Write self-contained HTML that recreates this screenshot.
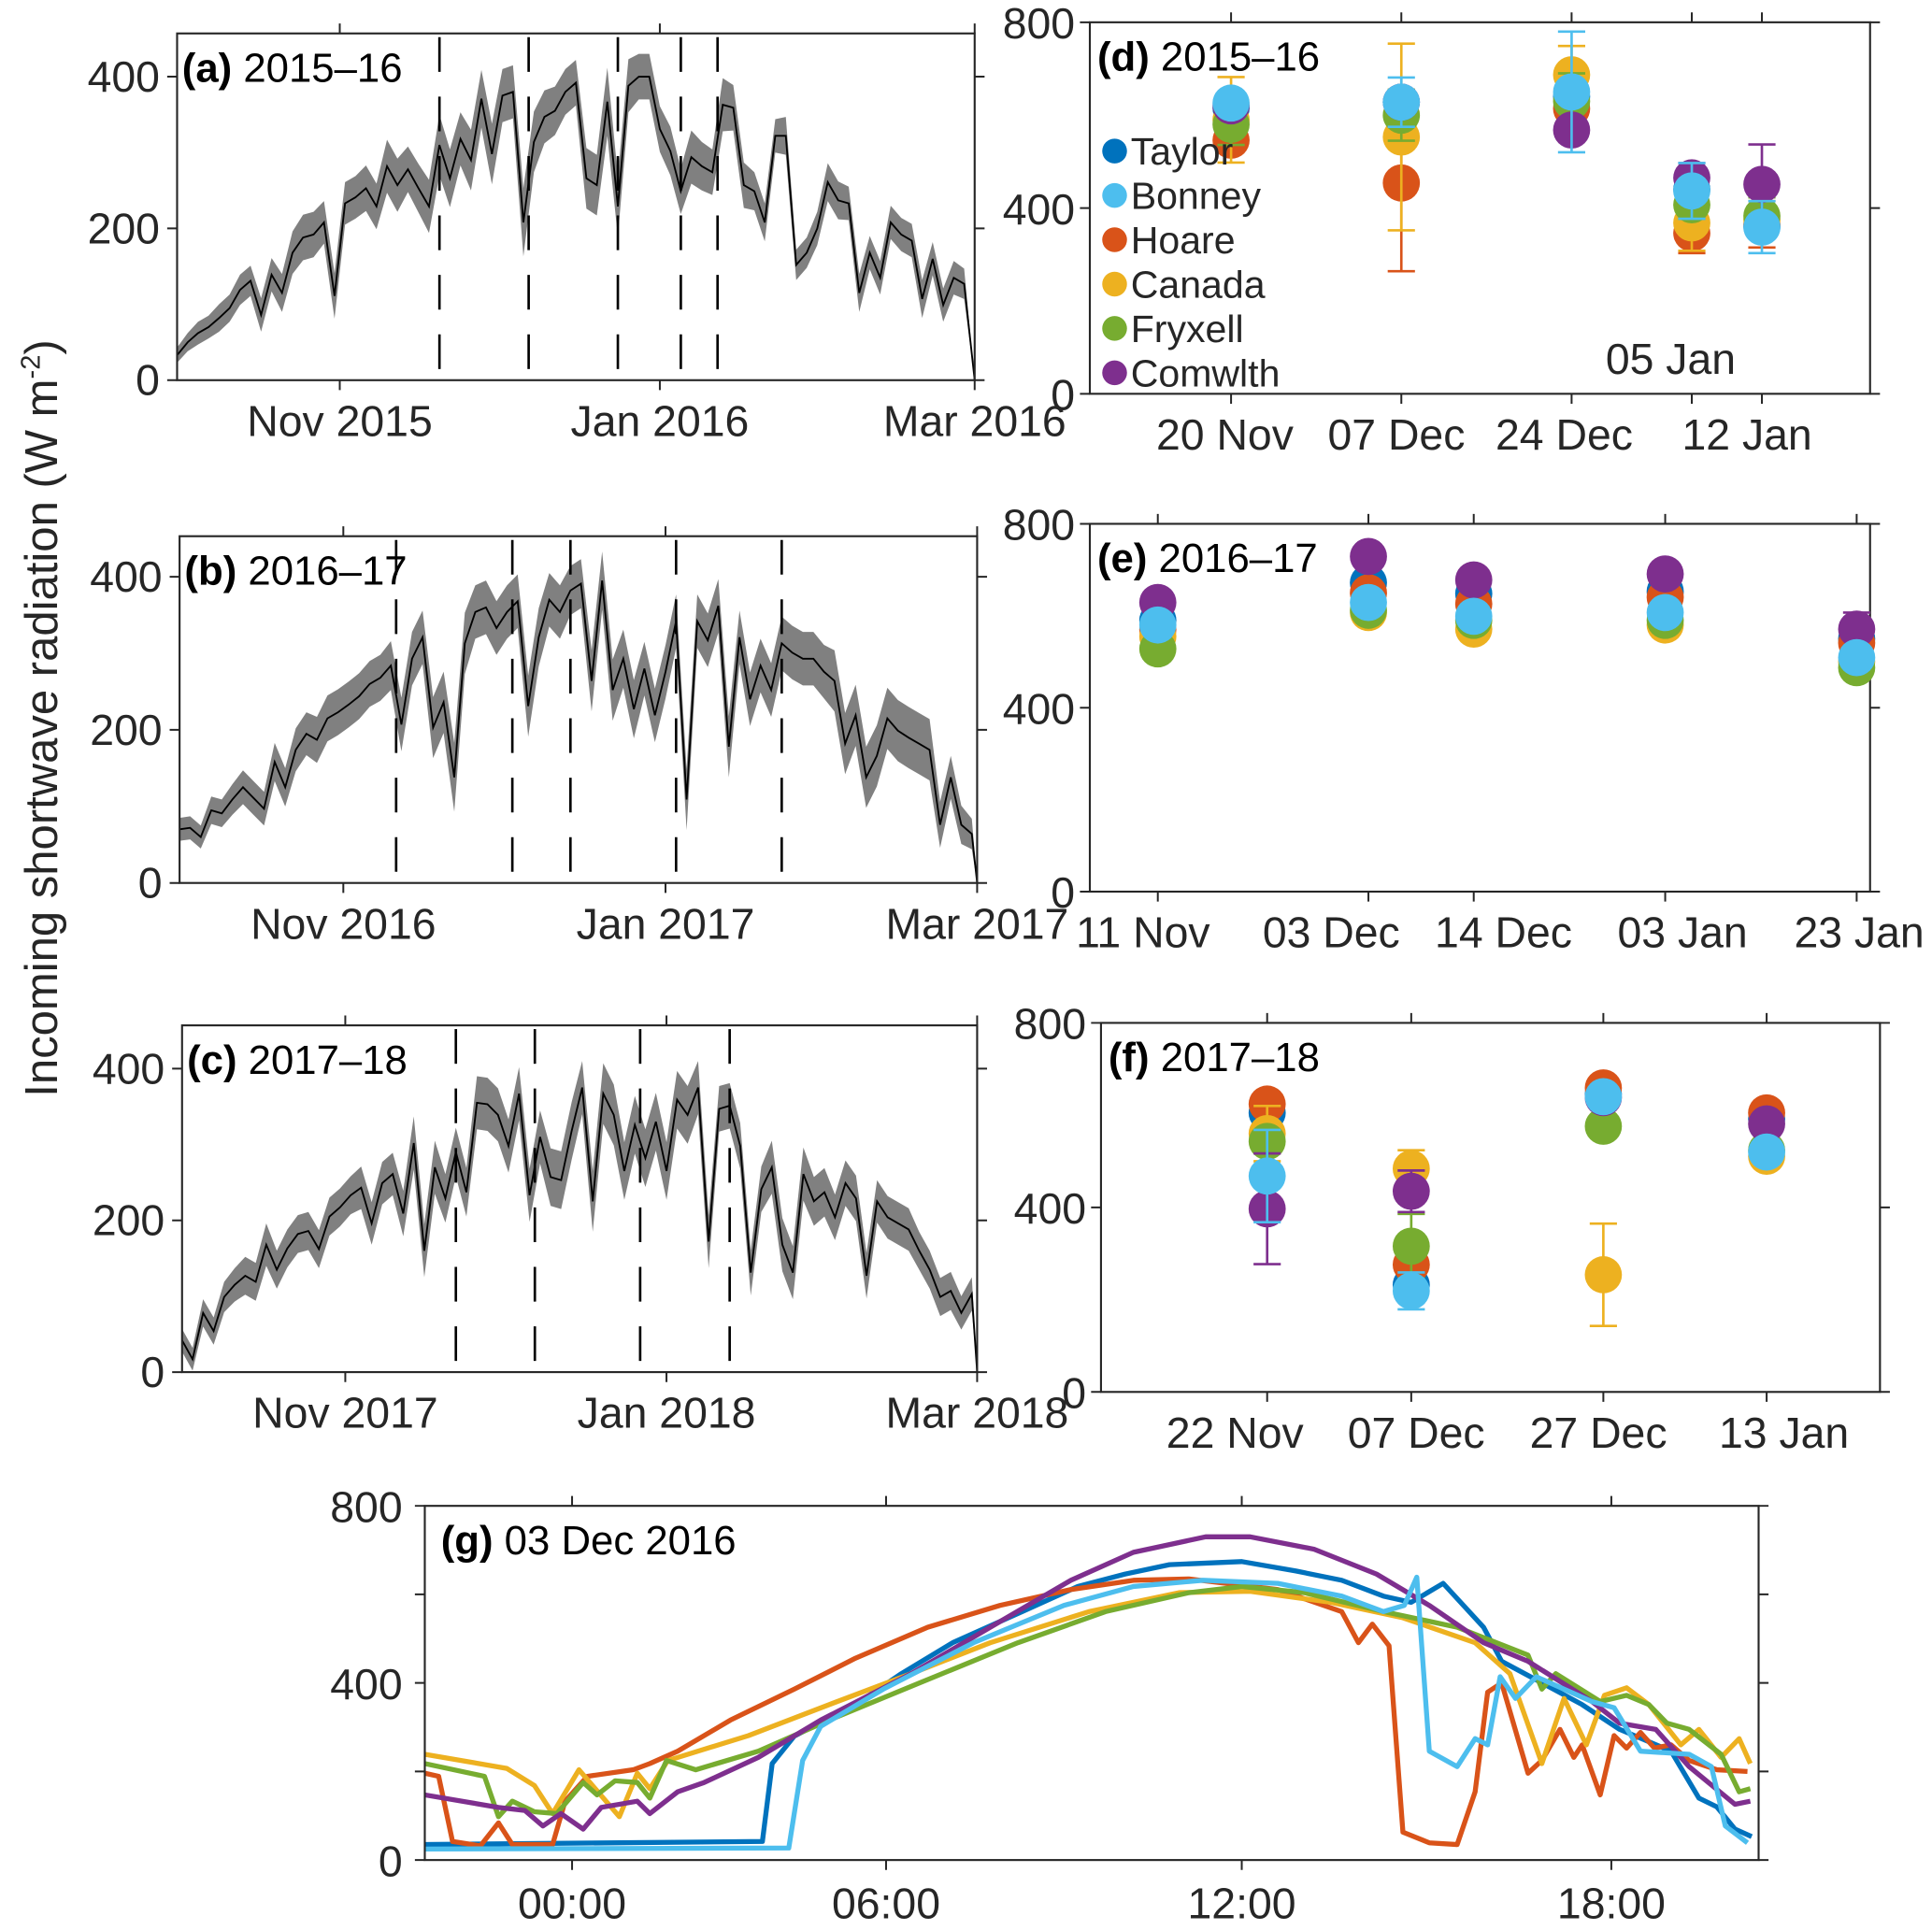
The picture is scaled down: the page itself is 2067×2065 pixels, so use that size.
<!DOCTYPE html>
<html><head><meta charset="utf-8"><style>
html,body{margin:0;padding:0;background:#fff;}
svg{display:block;font-family:"Liberation Sans",Arial,sans-serif;}
</style></head><body>
<svg id="fig" width="2067" height="2065" viewBox="0 0 1560 1558.5" xmlns="http://www.w3.org/2000/svg">
<text transform="translate(46,580) rotate(-90)" text-anchor="middle" font-size="37" fill="#262626">Incoming shortwave radiation (W m<tspan font-size="22" dy="-14">-2</tspan><tspan dy="14">)</tspan></text>
</svg>
<script>
// ---------- Panels a-c data (every 2 days from 1 Oct) ----------
const aValues=[33,50,62,70,82,95,119,131,86,139,115,168,188,192,208,111,233,241,253,229,282,257,278,253,229,310,266,318,290,371,298,375,380,208,314,347,355,380,392,266,257,367,229,388,400,400,331,302,249,294,282,274,363,359,257,249,208,322,322,152,168,200,261,237,233,115,168,135,208,192,184,107,160,99,135,127,0];
const aSpread=[10,12,15,15,18,18,20,20,22,22,25,28,30,30,28,30,28,28,30,30,35,35,30,32,35,40,38,35,40,38,40,35,35,45,40,35,32,30,30,40,40,45,40,35,30,30,30,32,30,35,32,30,35,30,30,25,25,22,25,20,20,22,25,25,22,25,22,22,22,22,22,25,22,22,22,20,0];
const bValues=[70,72,60,95,91,109,125,111,97,158,125,174,195,187,215,223,233,244,260,268,284,207,293,321,203,236,138,313,354,360,333,354,368,231,321,370,354,382,391,264,395,252,293,227,280,219,276,342,109,342,317,362,178,321,240,284,252,313,301,293,293,276,264,182,219,138,166,215,199,190,182,174,76,138,76,64,0];
const bSpread=[15,15,15,18,18,20,22,22,22,25,25,28,28,30,30,30,30,30,30,30,32,35,35,35,40,40,45,40,35,35,35,35,35,40,38,35,35,32,32,40,38,40,38,38,35,35,35,35,40,35,35,35,40,35,35,35,35,35,35,35,35,35,40,40,40,40,40,40,40,40,40,40,30,28,25,20,0];
const cValues=[42,17,78,54,99,115,127,119,168,135,163,182,186,162,205,217,233,243,196,249,261,209,302,160,270,229,290,237,355,353,339,298,367,233,310,257,253,318,375,225,367,339,265,326,282,330,265,359,339,375,172,347,351,298,131,241,270,168,131,261,225,237,204,249,229,127,225,204,196,188,160,135,99,107,78,103,0];
const cSpread=[15,15,18,18,20,22,25,25,28,25,25,25,25,25,25,25,25,28,28,28,28,30,35,35,35,32,32,32,35,35,35,35,35,35,35,38,38,38,35,40,40,40,38,38,38,38,38,38,38,35,35,30,30,30,30,30,35,35,35,35,32,32,30,30,30,30,28,28,28,28,25,25,25,25,22,22,0];
const aDashDays=[50,67,84,96,103];
const bDashDays=[41,63,74,94,114];
const cDashDays=[52,67,87,104];
const tsTickLabels=[["Nov 2015","Jan 2016","Mar 2016"],["Nov 2016","Jan 2017","Mar 2017"],["Nov 2017","Jan 2018","Mar 2018"]];
const tsTickDays=[31,92];
const tsYTicks=[0,200,400];

// ---------- Panels d-f data ----------
const seriesNames=["Taylor","Bonney","Hoare","Canada","Fryxell","Comwlth"];
const dDays=[50,67,84,96,103];
const dLabels=["20 Nov","07 Dec","24 Dec","","12 Jan"];
const dTaylor=[615,628,640,440,360];
const dBonney=[626,628,650,437,359];
const dHoare=[546,454,614,346,365];
const dCanada=[590,553,687,368,375];
const dFryxell=[580,600,630,407,383];
const dComwlth=[620,628,568,465,451];
const dErrTaylor=[0,0,0,0,0];
const dErrBonney=[0,53,130,60,56];
const dErrHoare=[0,190,0,43,50];
const dErrCanada=[92,201,62,60,0];
const dErrFryxell=[44,55,60,30,40];
const dErrComwlth=[0,0,0,32,86];

const eDays=[41,63,74,94,114];
const eLabels=["11 Nov","03 Dec","14 Dec","03 Jan","23 Jan"];
const eTaylor=[590,672,648,653,550];
const eBonney=[580,629,599,607,509];
const eHoare=[570,650,626,640,541];
const eCanada=[555,607,571,580,500];
const eFryxell=[528,612,590,590,487];
const eComwlth=[629,729,678,691,571];
const eErrComwlth=[0,0,0,0,36];

const fDays=[52,67,87,104];
const fLabels=["22 Nov","07 Dec","27 Dec","13 Jan"];
const fTaylor=[605,232,646,592];
const fBonney=[468,219,640,520];
const fHoare=[624,276,659,605];
const fCanada=[560,484,254,511];
const fFryxell=[543,316,576,524];
const fComwlth=[397,435,638,581];
const fErrBonney=[100,40,0,0];
const fErrCanada=[60,40,111,20];
const fErrFryxell=[0,70,0,0];
const fErrComwlth=[120,45,0,0];

// ---------- Panel g data (x in sample units, 0..96) ----------
const gTickPos=[10.6,33.2,58.8,85.4];
const gTickLabels=["00:00","06:00","12:00","18:00"];
const taylorT=[0,24.3,25,26.6,31,34.3,38,43,47,50.4,53.6,58.8,62.7,66,69,71,73.3,76.2,77.5,80,83.3,86,89.7,91.7,93,94.3,95.5];
const taylorV=[35,42,218,280,351,421,491,561,618,646,667,674,653,632,596,582,625,526,449,407,351,295,246,140,120,70,53];
const bonneyT=[0,26.2,27.2,28.5,33,39.5,46,51,56,61.4,66,69,70.5,71.4,72.3,74.3,75.6,76.5,77.4,78.5,80,82,84,85.6,87.5,91,92.6,93.6,95.2];
const bonneyV=[25,27,225,302,386,491,575,618,632,625,596,561,575,639,246,211,274,260,414,365,414,386,358,344,246,239,211,77,39];
const hoareT=[0,1,2,4,5.3,6.3,9.2,10.1,11.7,15,16.2,18.2,22,26.6,31,36.2,41.4,46.5,51,55,61.4,66,67.2,68.2,69.4,70.4,72.3,74.3,75.6,76.5,77.5,79.4,80.4,81.7,82.7,83.3,84.6,85.6,86.5,87.5,88.5,89.7,91,93,95.2];
const hoareV=[196,189,42,32,84,35,35,133,189,204,218,246,316,386,456,526,575,611,632,635,611,561,491,533,484,63,39,35,154,379,400,196,225,295,232,260,147,281,253,288,253,260,225,204,200];
const canadaT=[0,5.9,7.9,9.2,11.1,14,15.3,16.2,17.5,23.3,29.1,35,40.7,47.8,54.3,59.4,65.2,70.4,75.6,78.1,80.4,82,83.6,84.9,86.5,88.1,90.4,91.7,93.3,94.6,95.4];
const canadaV=[239,207,168,105,204,98,196,161,225,281,351,421,491,561,604,607,582,547,491,421,218,365,260,372,389,351,260,295,232,274,218];
const fryxellT=[0,4.3,5.3,6.3,7.9,9.5,11.4,12.4,13.7,15.3,16.2,17.4,19.5,24,29.1,35.6,42.7,49,55,58.8,63.3,69,74.3,79.4,80.4,81.4,84.6,86.5,88.1,89.4,91,93.3,94.6,95.4];
const fryxellV=[218,189,98,133,109,105,175,147,179,175,140,225,204,246,316,400,491,561,604,618,604,561,526,463,386,421,358,372,351,309,295,239,154,161];
const comwlthT=[0,5.3,7.2,8.5,9.8,11.4,12.7,15.3,16.2,18.2,20.1,24,28.5,35,40.7,46.5,51,56.2,59.4,64,68.5,72.3,76.2,79.4,84,86,88.6,91,94.3,95.4];
const comwlthV=[147,119,112,77,105,70,119,133,105,154,175,232,316,421,526,632,695,730,730,702,646,575,491,449,358,309,295,211,126,133];

const COLORS={Taylor:"#0072BD",Bonney:"#4DBEEE",Hoare:"#D95319",Canada:"#EDB120",Fryxell:"#77AC30",Comwlth:"#7E2F8E"};
const NS="http://www.w3.org/2000/svg";
const svg=document.getElementById("fig");
function mk(tag,attrs,parent){const e=document.createElementNS(NS,tag);for(const k in attrs)e.setAttribute(k,attrs[k]);(parent||svg).appendChild(e);return e;}
const AX="#262626";
const FS=35;

function frame(g,L,R,T,B,name){
  const r=mk("rect",{x:L,y:T,width:R-L,height:B-T,fill:"none",stroke:AX,"stroke-width":1.6},g);
  
  
}
function txt(g,x,y,s,size,anchor,name){
  const t=mk("text",{x:x,y:y,"font-size":size,"text-anchor":anchor,fill:AX},g);
  t.textContent=s;
  
  
  return t;
}
function panelTitle(g,x,y,letter,rest,name){
  const t=mk("text",{x:x,y:y,"font-size":33,fill:"#000"},g);
  
  
  const b=mk("tspan",{"font-weight":"bold"},t);b.textContent=letter;
  const s=mk("tspan",{},t);s.textContent=rest;
}

// ---------- time-series panels ----------
function tsPanel(cfg){
  const g=mk("g",{});
  
  
  const {L,R,T,B,ndays,ymax}=cfg;
  const x=d=>L+d/ndays*(R-L);
  const y=v=>B-v/ymax*(B-T);
  let up=[],lo=[],ln=[];
  cfg.values.forEach((v,i)=>{const d=Math.min(2*i,ndays);const s=cfg.spread[i];
    up.push(x(d).toFixed(1)+","+y(v+s).toFixed(1));
    lo.unshift(x(d).toFixed(1)+","+y(Math.max(0,v-s)).toFixed(1));
    ln.push(x(d).toFixed(1)+","+y(v).toFixed(1));});
  const band=mk("polygon",{points:up.concat(lo).join(" "),fill:"#808080",stroke:"none"},g);
  
  
  const line=mk("polyline",{points:ln.join(" "),fill:"none",stroke:"#000","stroke-width":1.4},g);
  
  
  cfg.dashes.forEach(d=>{
    const dl=mk("line",{x1:x(d),x2:x(d),y1:T+3,y2:B,stroke:"#000","stroke-width":2,"stroke-dasharray":"28 20"},g);
    
    
  });
  frame(g,L,R,T,B,cfg.name);
  tsYTicks.forEach(v=>{
    const tk=mk("path",{d:`M${L-8},${y(v)}H${L}M${R},${y(v)}H${R+8}`,stroke:AX,"stroke-width":1.5},g);
    
    
    txt(g,L-14,y(v)+12,String(v),FS,"end","y-tick-label");
  });
  const days=tsTickDays.concat([ndays]);
  days.forEach((d,i)=>{
    const tk=mk("path",{d:`M${x(d)},${T-8}V${T}M${x(d)},${B}V${B+8}`,stroke:AX,"stroke-width":1.5},g);
    
    
    txt(g,x(d),B+45,cfg.labels[i],FS,"middle","x-tick-label");
  });
  panelTitle(g,L+4,T+39,cfg.letter,cfg.title,"panel-title");
}
tsPanel({name:"panel-a",L:143,R:787,T:27,B:307,ndays:152,ymax:457,values:aValues,spread:aSpread,dashes:aDashDays,labels:tsTickLabels[0],letter:"(a)",title:" 2015–16"});
tsPanel({name:"panel-b",L:145,R:789,T:433,B:713,ndays:151,ymax:453,values:bValues,spread:bSpread,dashes:bDashDays,labels:tsTickLabels[1],letter:"(b)",title:" 2016–17"});
tsPanel({name:"panel-c",L:147,R:789,T:828,B:1108,ndays:151,ymax:457,values:cValues,spread:cSpread,dashes:cDashDays,labels:tsTickLabels[2],letter:"(c)",title:" 2017–18"});

// ---------- scatter panels ----------
function scPanel(cfg){
  const g=mk("g",{});
  
  
  const {L,R,T,B,d0,d1}=cfg;
  const x=d=>L+(d-d0)/(d1-d0)*(R-L);
  const y=v=>B-v/800*(B-T);
  const shift=cfg.shift||[];
  frame(g,L,R,T,B,cfg.name);
  [0,400,800].forEach(v=>{
    const tk=mk("path",{d:`M${L-8},${y(v)}H${L}M${R},${y(v)}H${R+8}`,stroke:AX,"stroke-width":1.5},g);
    
    
    txt(g,L-12,y(v)+13,String(v),FS,"end","y-tick-label");
  });
  cfg.days.forEach((d,i)=>{
    const tk=mk("path",{d:`M${x(d)},${T-8}V${T}M${x(d)},${B}V${B+8}`,stroke:AX,"stroke-width":1.5},g);
    
    
    if(cfg.labels[i])txt(g,x(d)+(shift[i]||0),B+45,cfg.labels[i],FS,"middle","x-tick-label");
  });
  const order=["Taylor","Hoare","Canada","Fryxell","Comwlth","Bonney"];
  order.forEach(nm=>{
    const vals=cfg.series[nm],errs=cfg.errs[nm]||[];
    const sg=mk("g",{},g);
    
    
    vals.forEach((v,i)=>{
      const e=errs[i]||0;const cx=x(cfg.days[i]);
      if(e>0){
        const eb=mk("path",{d:`M${cx},${y(v+e)}V${y(v-e)}M${cx-11},${y(v+e)}H${cx+11}M${cx-11},${y(v-e)}H${cx+11}`,stroke:COLORS[nm],"stroke-width":2,fill:"none"},sg);
        
        
      }
      const c=mk("circle",{cx:cx,cy:y(v),r:15,fill:COLORS[nm]},sg);
      
      
    });
  });
  panelTitle(g,L+6,T+39,cfg.letter,cfg.title,"panel-title");
  return g;
}
const gd=scPanel({name:"panel-d",L:880,R:1510,T:18,B:318,d0:35.9,d1:113.8,days:dDays,labels:dLabels,shift:[-5,-4,-6,0,-12],letter:"(d)",title:" 2015–16",
  series:{Taylor:dTaylor,Bonney:dBonney,Hoare:dHoare,Canada:dCanada,Fryxell:dFryxell,Comwlth:dComwlth},
  errs:{Taylor:dErrTaylor,Bonney:dErrBonney,Hoare:dErrHoare,Canada:dErrCanada,Fryxell:dErrFryxell,Comwlth:dErrComwlth}});
txt(gd,1349,302,"05 Jan",FS,"middle","x-tick-label-05-jan");
// legend
const lg=mk("g",{},gd);


seriesNames.forEach((nm,i)=>{
  const yy=122+i*35.8;
  const c=mk("circle",{cx:900,cy:yy,r:10,fill:COLORS[nm]},lg);
  
  
  txt(lg,913,yy+11,nm,31,"start","legend-entry-"+nm.toLowerCase());
});
scPanel({name:"panel-e",L:880,R:1510,T:423,B:720,d0:33.9,d1:115.4,days:eDays,labels:eLabels,shift:[-12,-30,24,14,2],letter:"(e)",title:" 2016–17",
  series:{Taylor:eTaylor,Bonney:eBonney,Hoare:eHoare,Canada:eCanada,Fryxell:eFryxell,Comwlth:eComwlth},
  errs:{Comwlth:eErrComwlth}});
scPanel({name:"panel-f",L:889,R:1518,T:826,B:1124,d0:34.7,d1:115.8,days:fDays,labels:fLabels,shift:[-26,4,-4,14],letter:"(f)",title:" 2017–18",
  series:{Taylor:fTaylor,Bonney:fBonney,Hoare:fHoare,Canada:fCanada,Fryxell:fFryxell,Comwlth:fComwlth},
  errs:{Bonney:fErrBonney,Canada:fErrCanada,Fryxell:fErrFryxell,Comwlth:fErrComwlth}});

// ---------- panel g ----------
(function(){
  const g=mk("g",{});
  
  
  const L=343,R=1420,T=1216,B=1502;
  const x=i=>L+i/96*(R-L);
  const y=v=>B-v/800*(B-T);
  const series=[["Taylor",taylorT,taylorV],["Hoare",hoareT,hoareV],["Canada",canadaT,canadaV],["Fryxell",fryxellT,fryxellV],["Comwlth",comwlthT,comwlthV],["Bonney",bonneyT,bonneyV]];
  series.forEach(([nm,ts,vs])=>{
    const pts=ts.map((t,i)=>x(t).toFixed(1)+","+y(vs[i]).toFixed(1)).join(" ");
    const pl=mk("polyline",{points:pts,fill:"none",stroke:COLORS[nm],"stroke-width":4,"stroke-linejoin":"round"},g);
    
    
  });
  frame(g,L,R,T,B,"panel-g");
  [0,200,400,600,800].forEach(v=>{
    const tk=mk("path",{d:`M${L-8},${y(v)}H${L}M${R},${y(v)}H${R+8}`,stroke:AX,"stroke-width":1.5},g);
    
    
    if(v%400===0)txt(g,L-18,y(v)+13,String(v),FS,"end","y-tick-label");
  });
  gTickPos.forEach((p,i)=>{
    const tk=mk("path",{d:`M${x(p)},${T-8}V${T}M${x(p)},${B}V${B+8}`,stroke:AX,"stroke-width":1.5},g);
    
    
    txt(g,x(p),B+47,gTickLabels[i],FS,"middle","x-tick-label");
  });
  panelTitle(g,L+13,T+39,"(g)","  03 Dec 2016","panel-title");
})();
</script>
</body></html>
